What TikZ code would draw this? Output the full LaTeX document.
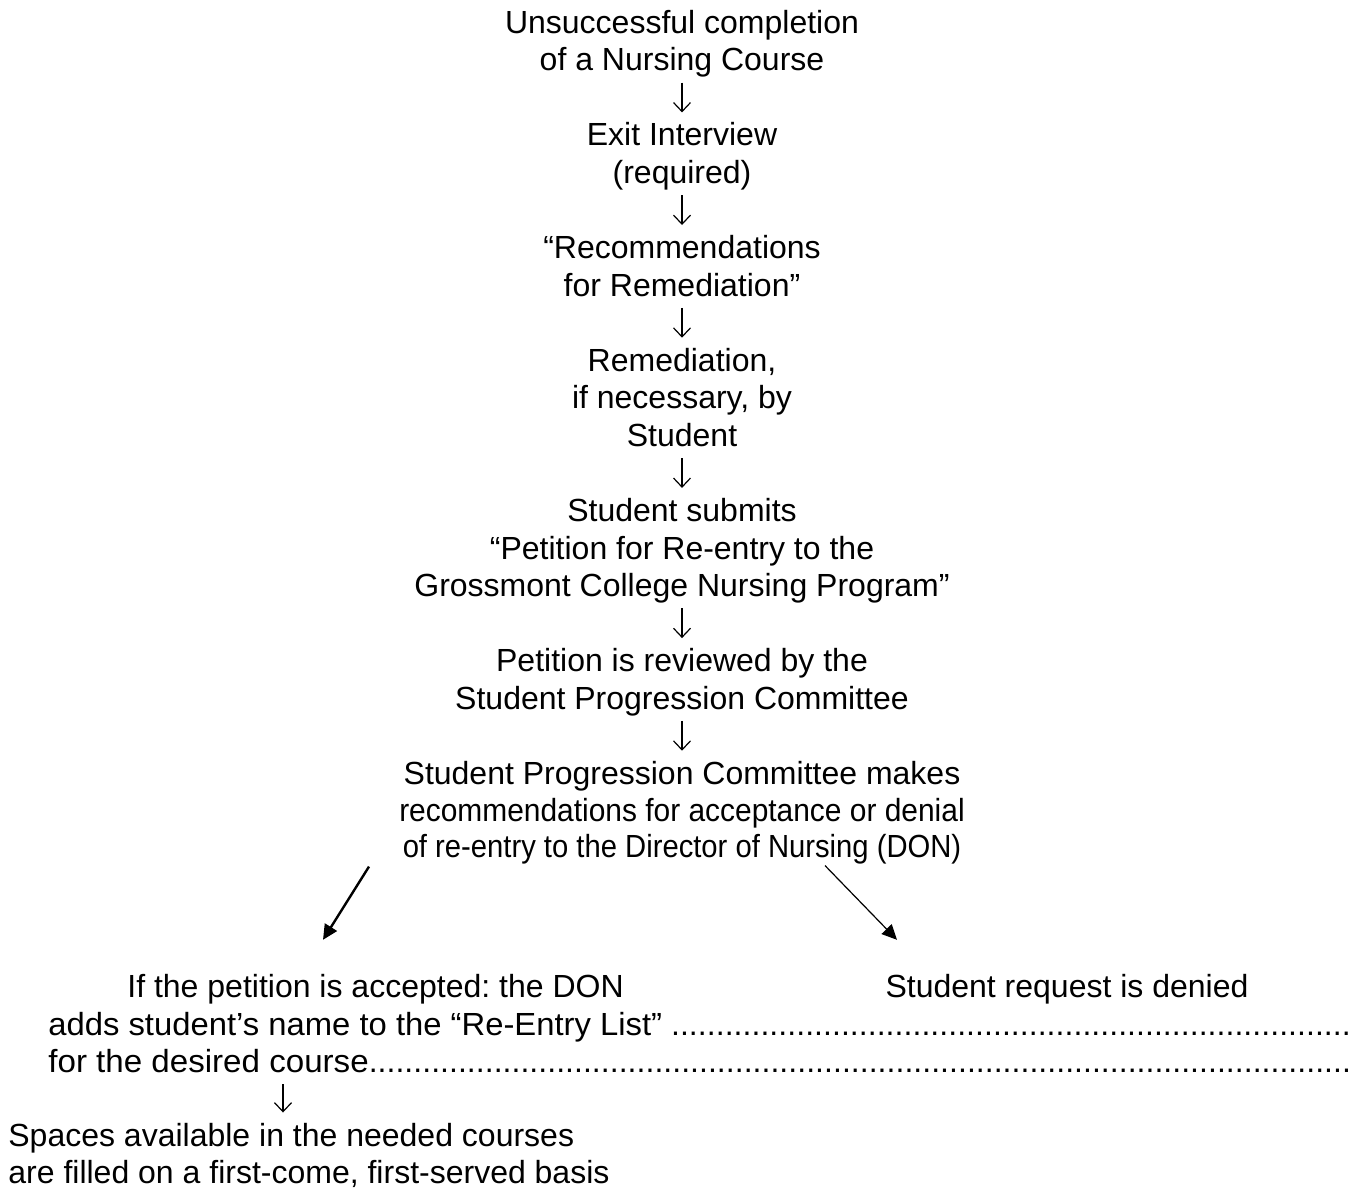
\documentclass[tikz,border=0pt]{standalone}
\usepackage{fontspec}
\setmainfont{Liberation Sans}
\usetikzlibrary{arrows.meta}
\newcommand\dotlead{\xleaders\hbox{.}\hskip 0pt plus 1fill\null}

\begin{document}
\begin{tikzpicture}[x=0.5pt,y=-0.5pt,
  every node/.style={inner sep=0pt, font=\fontsize{16}{18.775}\selectfont\frenchspacing,
    execute at begin node=\strut, execute at end node=\strut},
  flow/.style={anchor=north, align=center},
  down/.style={-{Straight Barb[length=4.5pt,width=8.5pt]}, line width=0.6pt, shorten >=5pt},
  branch/.style={-{Triangle[length=7.5pt,width=7pt]}}]
\useasboundingbox (0,0) rectangle (1363,1189);
\node[flow] (start) at (682,9.7) {Unsuccessful completion\\of a Nursing Course};
\node[flow] (exit) at (682,122.4) {Exit Interview\\(required)};
\node[flow] (recom) at (682,235) {“Recommendations\\for Remediation”};
\node[flow] (remed) at (682,347.7) {Remediation,\\if necessary, by\\Student};
\node[flow] (submit) at (682,497.9) {Student submits\\“Petition for Re-entry to the\\Grossmont College Nursing Program”};
\node[flow] (review) at (682,648.1) {Petition is reviewed by the\\Student Progression Committee};
\node[flow] (spc) at (682,760.7) {Student Progression Committee makes\\[-0.3pt]\scalebox{0.935}[1]{recommendations for acceptance or denial}\\[-0.8pt]\scalebox{0.913}[1]{of re-entry to the Director of Nursing (DON)}};
\node[anchor=north west, text width=651pt, align=flush left] (accept) at (48,970.8) {\hspace*{39.5pt}If the petition is accepted: the DON\\\scalebox{1.025}[1]{adds student’s name to the “Re-Entry List”} \dotlead\\\scalebox{1.035}[1]{for the desired course}\dotlead};
\node[anchor=north] (denied) at (1067,970.8) {Student request is denied};
\node[anchor=north west, align=left] (spaces) at (8,1122.5) {Spaces available in the needed courses\\are filled on a first-come, first-served basis};
\foreach \a/\b in {start/exit,exit/recom,recom/remed,remed/submit,submit/review,review/spc}
  \draw[down] (\a.south) -- (\b.north);
\draw[down] ([xshift=117.5pt]accept.south west) -- ([xshift=137.5pt]spaces.north west);
\draw[branch, line width=1.2pt] ([xshift=-156.5pt,yshift=1.15pt]spc.south) -- ([xshift=137.5pt,yshift=15.5pt]accept.north west);
\draw[branch, line width=0.6pt] ([xshift=71.5pt,yshift=1.65pt]spc.south) -- ([xshift=-85pt,yshift=15.5pt]denied.north);
\end{tikzpicture}
\end{document}
